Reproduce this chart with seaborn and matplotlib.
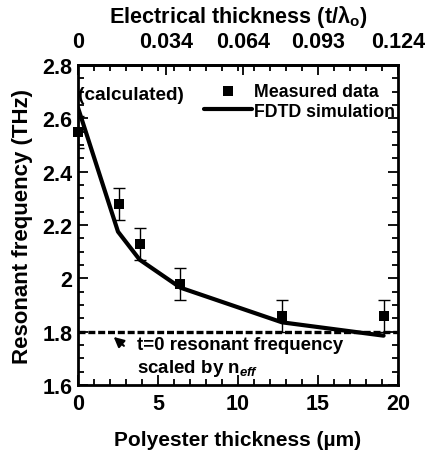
import matplotlib
matplotlib.use("Agg")
import matplotlib.pyplot as plt
import seaborn as sns
import pandas as pd

# ---- data ----
meas_thickness = [0.0, 2.55, 3.85, 6.4, 12.75, 19.1]
meas_freq = [2.55, 2.28, 2.13, 1.98, 1.86, 1.86]
meas_err = [0.06, 0.06, 0.06, 0.06, 0.06, 0.06]

fdtd_thickness = [0.0, 2.5, 3.85, 6.4, 12.75, 19.1]
fdtd_freq = [2.64, 2.175, 2.07, 1.965, 1.835, 1.785]

scaled_t0_freq = 1.80

top_tick_labels = ["0", "0.034", "0.064", "0.093", "0.124"]
top_tick_values = [0.0, 0.034, 0.064, 0.093, 0.124]
electrical_per_um = 0.0062

sns.set_style("ticks")
plt.rcParams["font.family"] = ["Liberation Sans", "DejaVu Sans"]
plt.rcParams["font.weight"] = "bold"
plt.rcParams["mathtext.fontset"] = "custom"
plt.rcParams["mathtext.rm"] = "Liberation Sans:bold"
plt.rcParams["mathtext.it"] = "Liberation Sans:bold:italic"
plt.rcParams["mathtext.bf"] = "Liberation Sans:bold"
for k in ["text.color", "axes.labelcolor", "xtick.color", "ytick.color", "axes.edgecolor"]:
    plt.rcParams[k] = "black"

fig = plt.figure(figsize=(4.31, 4.52), dpi=100)
ax = fig.add_axes([78 / 431, 1 - 386 / 452, (398 - 78) / 431, (386 - 66) / 452])

df_meas = pd.DataFrame({"t": meas_thickness, "f": meas_freq})
df_fdtd = pd.DataFrame({"t": fdtd_thickness, "f": fdtd_freq})

ax.axhline(scaled_t0_freq, color="black", lw=2.4, ls=(0, (2.1, 0.85)), zorder=2)
sns.lineplot(data=df_fdtd, x="t", y="f", ax=ax, color="black", lw=3.0,
             label="FDTD simulation", zorder=3, legend=False)
ax.errorbar(meas_thickness, meas_freq, yerr=meas_err, fmt="none",
            ecolor="black", elinewidth=1.0, capsize=4, capthick=1.0, zorder=4)
sns.scatterplot(data=df_meas, x="t", y="f", ax=ax, marker="s", s=55,
                color="black", edgecolor="black", linewidth=0,
                label="Measured data", zorder=5, legend=False, clip_on=False)

ax.set_xlim(0, 20)
ax.set_ylim(1.6, 2.8)
ax.set_xticks([0, 5, 10, 15, 20])
ax.set_xticks(range(0, 21), minor=True)
ax.set_yticks([1.6, 1.8, 2.0, 2.2, 2.4, 2.6, 2.8])
ax.set_yticklabels(["1.6", "1.8", "2", "2.2", "2.4", "2.6", "2.8"])
ax.set_yticks([1.6 + 0.05 * i for i in range(25)], minor=True)
ax.tick_params(which="both", direction="in", top=False, right=True,
               width=1.3, labelsize=15.5)
ax.tick_params(axis="x", which="both", pad=6)
ax.tick_params(axis="y", which="both", pad=4)
ax.tick_params(which="major", length=7)
ax.tick_params(which="minor", length=4)
for sp in ax.spines.values():
    sp.set_linewidth(2)
    sp.set_visible(True)

ax.set_xlabel("Polyester thickness (µm)", fontsize=15, fontweight="bold", labelpad=11)
ax.set_ylabel("Resonant frequency (THz)", fontsize=16, fontweight="bold", labelpad=7)

# top axis
top = ax.secondary_xaxis("top", functions=(lambda t: t * electrical_per_um,
                                           lambda e: e / electrical_per_um))
top.set_xticks(top_tick_values)
top.set_xticklabels(top_tick_labels)
top.set_xticks([electrical_per_um * i for i in range(0, 21)], minor=True)
top.tick_params(which="both", direction="in", width=1.3, labelsize=15.5, pad=9)
top.tick_params(which="major", length=7)
top.tick_params(which="minor", length=4)
top.spines["top"].set_linewidth(2)
top.set_xlabel(r"Electrical thickness (t/λ$_\mathregular{o}$)", fontsize=15.6,
               fontweight="bold", labelpad=7)

# legend
h, l = ax.get_legend_handles_labels()
order = [l.index("Measured data"), l.index("FDTD simulation")]
leg = ax.legend([h[i] for i in order], [l[i] for i in order], loc="upper right",
                bbox_to_anchor=(0.992, 1 - 18 / 320),
                frameon=False, fontsize=12.8, handlelength=2.7, handletextpad=0.15,
                borderaxespad=0.0, labelspacing=0.15, borderpad=0.0)

ax.text(0.0, 2.69, "(calculated)", fontsize=13.7, fontweight="bold",
        ha="left", va="center")

ax.annotate("", xy=(2.1, 1.787), xytext=(3.0, 1.74),
            arrowprops=dict(arrowstyle="-|>", color="black", lw=1.5,
                            mutation_scale=15))
ax.text(3.7, 1.752, "t=0 resonant frequency", fontsize=13.5, fontweight="bold",
        ha="left", va="center")
ax.text(3.7, 1.665, r"scaled by n$_{eff}$", fontsize=13.5, fontweight="bold",
        ha="left", va="center")

fig.savefig("out.png", dpi=100)
